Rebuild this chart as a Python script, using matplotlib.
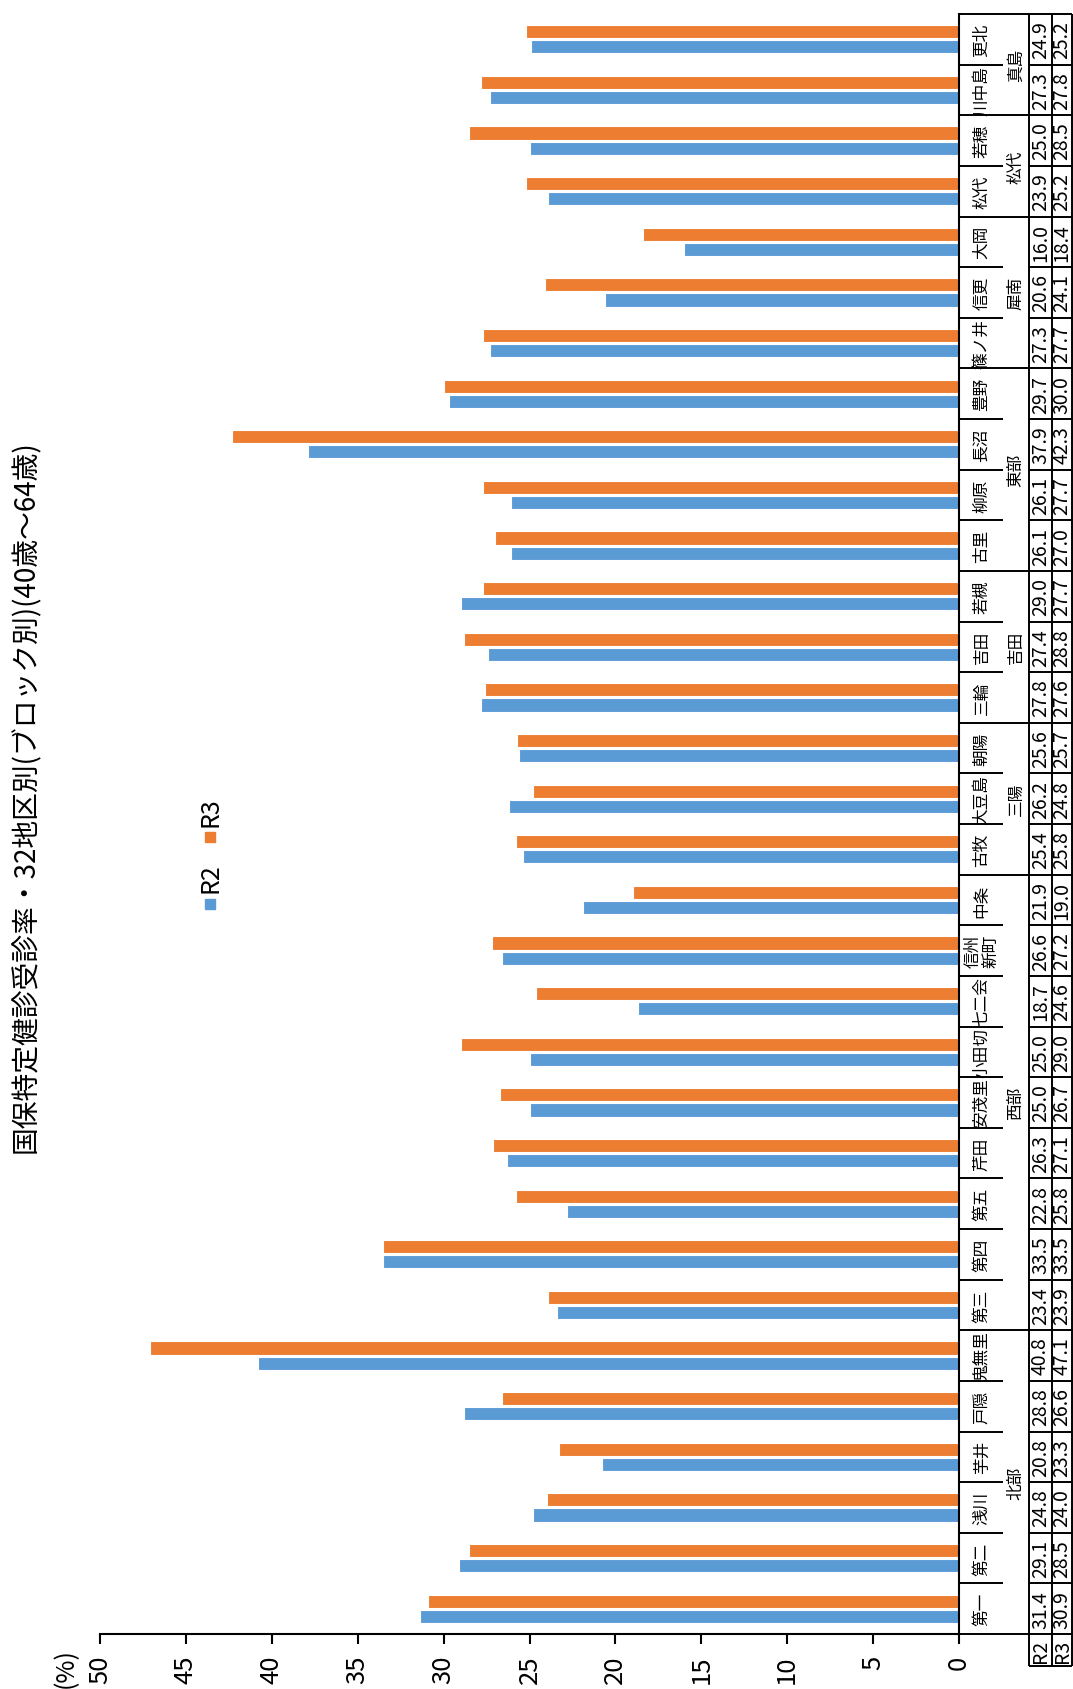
import matplotlib
matplotlib.use("Agg")
import matplotlib.pyplot as plt
from matplotlib.patches import Rectangle
import numpy as np

plt.rcParams['font.family'] = ['Noto Sans CJK JP', 'DejaVu Sans']

# ---- data -------------------------------------------------------------
districts = ["第一", "第二", "浅川", "芋井", "戸隠", "鬼無里", "第三", "第四",
             "第五", "芹田", "安茂里", "小田切", "七二会", "信州\n新町", "中条",
             "古牧", "大豆島", "朝陽", "三輪", "吉田", "若槻", "古里", "柳原",
             "長沼", "豊野", "篠ノ井", "信更", "大岡", "松代", "若穂", "川中島",
             "更北"]
blocks = ["北部", "西部", "三陽", "吉田", "東部", "犀南", "松代", "真島"]
block_first = [0, 6, 15, 18, 21, 25, 28, 30]
block_last = [5, 14, 17, 20, 24, 27, 29, 31]
r2 = [31.4, 29.1, 24.8, 20.8, 28.8, 40.8, 23.4, 33.5, 22.8, 26.3, 25.0, 25.0,
      18.7, 26.6, 21.9, 25.4, 26.2, 25.6, 27.8, 27.4, 29.0, 26.1, 26.1, 37.9,
      29.7, 27.3, 20.6, 16.0, 23.9, 25.0, 27.3, 24.9]
r3 = [30.9, 28.5, 24.0, 23.3, 26.6, 47.1, 23.9, 33.5, 25.8, 27.1, 26.7, 29.0,
      24.6, 27.2, 19.0, 25.8, 24.8, 25.7, 27.6, 28.8, 27.7, 27.0, 27.7, 42.3,
      30.0, 27.7, 24.1, 18.4, 25.2, 28.5, 27.8, 25.2]
series_names = ["R2", "R3"]
value_ticks = [0, 5, 10, 15, 20, 25, 30, 35, 40, 45, 50]
title = "国保特定健診受診率・32地区別(ブロック別)(40歳～64歳)"

BLUE = "#5B9BD5"
ORANGE = "#ED7D31"

# ---- figure geometry (pixels) ----------------------------------------
W, H = 1073, 1690
fig = plt.figure(figsize=(W / 100, H / 100), dpi=100)


def fx(px):
    return px / W


def fy(py):
    return 1 - py / H


X_MAX, X_ZERO = 100, 959
Y_TOP, Y_BOT = 15, 1635
ax = fig.add_axes([fx(X_MAX), fy(Y_BOT), fx(X_ZERO) - fx(X_MAX),
                   fy(Y_TOP) - fy(Y_BOT)])

n = len(districts)
pos = np.arange(n)
ax.barh(pos - 0.15, r2, height=0.26, color=BLUE, edgecolor="white",
        linewidth=0.8, label=series_names[0])
ax.barh(pos + 0.15, r3, height=0.26, color=ORANGE, edgecolor="white",
        linewidth=0.8, label=series_names[1])
ax.set_xlim(50, 0)
ax.set_ylim(-0.5, n - 0.5)
ax.set_yticks([])
ax.set_xticks(value_ticks)
ax.set_xticklabels([str(t) for t in value_ticks])
ax.tick_params(axis="x", direction="out", length=7, width=1.5, pad=8,
               labelsize=18.5, labelrotation=90, colors="black")
for side in ("left", "top"):
    ax.spines[side].set_visible(False)
for side in ("bottom", "right"):
    ax.spines[side].set_linewidth(1.5)
    ax.spines[side].set_color("black")

# ---- data table on the category axis ---------------------------------
T = ax.get_yaxis_transform()
SLOT = (Y_BOT - Y_TOP) / n


def ax_x(px):
    return (px - X_MAX) / (X_ZERO - X_MAX)


X_NAME_END, X_V1, X_V2, X_END = 1003, 1029, 1052, 1072
y_low = -0.5 - 32 / SLOT
lw = 1.4


def hline(y, x1, x2):
    ax.plot([ax_x(x1), ax_x(x2)], [y, y], color="black", lw=lw,
            transform=T, clip_on=False, solid_capstyle="butt")


def vline(x, y1, y2):
    ax.plot([ax_x(x), ax_x(x)], [y1, y2], color="black", lw=lw,
            transform=T, clip_on=False, solid_capstyle="butt")


hline(n - 0.5, X_ZERO, X_END)
for x in (X_V1, X_V2, X_END):
    vline(x, n - 0.5, y_low)
hline(y_low, X_V1, X_END)

block_edges = set(b + 0.5 for b in block_last) | {-0.5}
for i in range(n):
    b = i - 0.5
    if b in block_edges:
        hline(b, X_ZERO, X_END)
    else:
        hline(b, X_ZERO, X_NAME_END)
        hline(b, X_V1, X_END)

for i, name in enumerate(districts):
    ax.text(ax_x(982), i, name, transform=T, rotation=90, ha="center",
            va="center", fontsize=12, linespacing=1.0,
            multialignment="center", clip_on=False)
    ax.text(ax_x(1040.5), i, f"{r2[i]:.1f}", transform=T, rotation=90,
            ha="center", va="center", fontsize=14, clip_on=False)
    ax.text(ax_x(1062), i, f"{r3[i]:.1f}", transform=T, rotation=90,
            ha="center", va="center", fontsize=14, clip_on=False)

for name, a, b in zip(blocks, block_first, block_last):
    ax.text(ax_x(1016), (a + b) / 2, name, transform=T, rotation=90,
            ha="center", va="center", fontsize=12, clip_on=False)

ax.text(ax_x(1040.5), (-0.5 + y_low) / 2, series_names[0], transform=T,
        rotation=90, ha="center", va="center", fontsize=14, clip_on=False)
ax.text(ax_x(1062), (-0.5 + y_low) / 2, series_names[1], transform=T,
        rotation=90, ha="center", va="center", fontsize=14, clip_on=False)

# ---- title, unit and legend ------------------------------------------
fig.text(fx(26), fy(797), title, rotation=90, ha="center", va="center",
         fontsize=20)
fig.text(fx(66), fy(1668), "(%)", rotation=90, ha="center", va="center",
         fontsize=18)

for color, name, sq_y, txt_y in ((BLUE, series_names[0], 905, 878),
                                  (ORANGE, series_names[1], 838, 812)):
    fig.patches.append(Rectangle((fx(205), fy(sq_y + 5)), 10 / W, 10 / H,
                                 transform=fig.transFigure, color=color))
    fig.text(fx(210), fy(txt_y), name, rotation=90, ha="center",
             va="center", fontsize=18)

fig.savefig("out.png", dpi=100)
